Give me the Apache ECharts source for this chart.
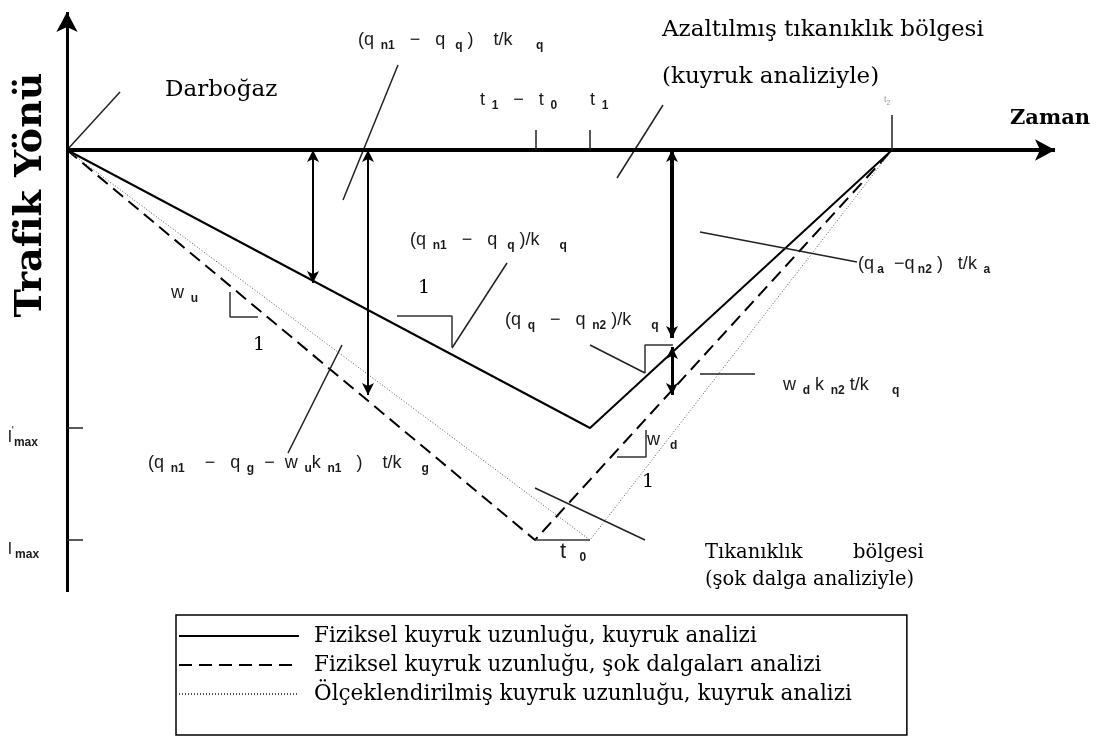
<!DOCTYPE html>
<html lang="tr">
<head>
<meta charset="UTF-8">
<title>Kuyruk analizi ve şok dalgası</title>
<script src="https://cdn.jsdelivr.net/npm/echarts@6/dist/echarts.min.js"></script>
<style>
	html, body { margin: 0; padding: 0; background: #fff; }
	#chart { width: 1104px; height: 756px; }
</style>
</head>
<body>
<div id="chart"></div>
<script type="text/javascript">
	// birimler: t (zaman) sağa, d (trafik yönü) yukarı, orijin = darboğaz
	var tTicks = [469, 523, 825];
	var tTickNames = ['{b|t}{s|  1}{b|   −   t}{s|  0}', '{b|t}{s|  1}', '{g|t}{gs|2}'];
	var lTicks = [-278, -390];
	var lTickNames = ['{l|l}{p|\'}{s|max}', '{l|l}{s| max}'];

	var seriesNames = [
		'Fiziksel kuyruk uzunluğu, kuyruk analizi',
		'Fiziksel kuyruk uzunluğu, şok dalgaları analizi',
		'Ölçeklendirilmiş kuyruk uzunluğu, kuyruk analizi'
	];
	var kuyrukAnalizi = [[0, 0], [523, -278], [825, 0]];
	var sokDalgasi = [[0, 0], [468, -390], [825, 0]];
	var olceklenmis = [[0, 0], [523, -390], [825, 0]];

	// çift yönlü oklar: [t, d1, d2, kalınlık]
	var arrows = [[246, 0, -133, 2], [301, 0, -245, 2], [605, 0, -188, 4], [605, -197, -245, 3]];

	// eğim üçgenleri ve t0 aralığı
	var slopeMarks = [
		[[163, -142], [163, -167], [191, -167]],
		[[330, -166], [385, -166], [385, -197]],
		[[578, -223], [578, -195], [606, -195]],
		[[579, -280], [579, -307], [550, -307]],
		[[468, -390], [523, -390]]
	];

	// açıklama çizgileri
	var leaders = [
		[[0, 0], [53, 58]],
		[[276, -50], [331, 85]],
		[[550, -28], [596, 45]],
		[[385, -198], [440, -113]],
		[[633, -82], [790, -112]],
		[[523, -195], [578, -223]],
		[[633, -224], [688, -224]],
		[[275, -195], [221, -303]],
		[[468, -338], [578, -390]]
	];

	var serif = 'DejaVu Serif';
	var sans = 'Liberation Sans';

	// metinler: [t, d, metin, tür]
	var notes = [
		[98, 60, 'Darboğaz', 'serif'],
		[595, 120, 'Azaltılmış tıkanıklık bölgesi', 'serif'],
		[595, 73, '(kuyruk analiziyle)', 'serif'],
		[638, -403, 'Tıkanıklık', 'serifS'],
		[786, -403, 'bölgesi', 'serifS'],
		[638, -430, '(şok dalga analiziyle)', 'serifS'],
		[291, 110, '{a|(q}{s|  n1}{a|   −   q}{s|   q}{a| )    t/k}{s|       q}', 'math'],
		[343, -90, '{a|(q}{s|  n1}{a|   −   q}{s|   q}{a| )/k}{s|      q}', 'math'],
		[791, -114, '{a|(q}{s| a}{a|  −q}{s| n2}{a| )   t/k}{s|  a}', 'math'],
		[438, -170, '{a|(q}{s|  q}{a|   −   q}{s|  n2}{a| )/k}{s|      q}', 'math'],
		[716, -235, '{a|w}{s|  d}{a| k}{s|  n2}{a| t/k}{s|       q}', 'math'],
		[81, -313, '{a|(q}{s|  n1}{a|    −   q}{s|  g}{a|  −  w}{s|  u}{a|k}{s|  n1}{a|   )    t/k}{s|      g}', 'math'],
		[104, -143, '{a|w}{s|  u}', 'math'],
		[580, -290, '{a|w}{s|   d}', 'math'],
		[493, -402, '{t|t}{s|    0}', 'math'],
		[186, -195, '1', 'one'],
		[351, -138, '1', 'one'],
		[575, -332, '1', 'one'],
		[943, 31, 'Zaman', 'bold'],
		[-36, -45, 'Trafik Yönü', 'vertical']
	];

	var rich = {
		a: { fontFamily: sans, fontSize: 18, color: '#1a1a1a' },
		b: { fontFamily: sans, fontSize: 18, color: '#1a1a1a' },
		t: { fontFamily: sans, fontSize: 22, color: '#1a1a1a' },
		l: { fontFamily: sans, fontSize: 17, color: '#1a1a1a' },
		s: { fontFamily: sans, fontSize: 12, fontWeight: 'bold', color: '#1a1a1a', padding: [12, 0, 0, 0] },
		p: { fontFamily: sans, fontSize: 11, color: '#1a1a1a', padding: [0, 0, 12, 0] },
		g: { fontFamily: sans, fontSize: 9, color: '#999' },
		gs: { fontFamily: sans, fontSize: 7, color: '#999', padding: [6, 0, 0, 0] }
	};

	function noteLabel(kind, text) {
		var lb = { show: true, position: 'right', distance: 0, formatter: text, color: '#000' };
		if (kind === 'serif') { lb.fontFamily = serif; lb.fontSize = 23; }
		if (kind === 'serifS') { lb.fontFamily = serif; lb.fontSize = 19.5; }
		if (kind === 'one') { lb.fontFamily = serif; lb.fontSize = 19; }
		if (kind === 'bold') { lb.fontFamily = serif; lb.fontSize = 21; lb.fontWeight = 'bold'; }
		if (kind === 'vertical') {
			lb.fontFamily = serif; lb.fontSize = 38; lb.fontWeight = 'bold';
			lb.position = 'inside'; lb.rotate = 90;
		}
		if (kind === 'math') { lb.rich = rich; }
		return lb;
	}

	var blk = '#000';
	var series = [
		{ name: seriesNames[0], type: 'line', data: kuyrukAnalizi, symbol: 'none',
		  lineStyle: { color: blk, width: 2 }, itemStyle: { color: blk } },
		{ name: seriesNames[1], type: 'line', data: sokDalgasi, symbol: 'none',
		  lineStyle: { color: blk, width: 2, type: [13, 7] }, itemStyle: { color: blk } },
		{ name: seriesNames[2], type: 'line', data: olceklenmis, symbol: 'none',
		  lineStyle: { color: '#555', width: 1, type: [1, 2] }, itemStyle: { color: '#555' } }
	];

	slopeMarks.concat(leaders).forEach(function (pts, i) {
		series.push({ name: 'yardimci' + i, type: 'line', data: pts, symbol: 'none', silent: true,
			lineStyle: { color: i < slopeMarks.length ? '#333' : '#222', width: 1.5 } });
	});

	// eksenler, oklar, çentikler
	var axisLines = [
		[{ coord: [0, 0], lineStyle: { width: 4 } }, { coord: [988, 0] }],
		[{ coord: [0, -442], lineStyle: { width: 3 } }, { coord: [0, 138] }]
	];
	var arrowLines = arrows.map(function (a) {
		return [{ coord: [a[0], a[1]], lineStyle: { width: a[3] } }, { coord: [a[0], a[2]] }];
	});
	var tickLen = [20, 20, 35];
	var tickLines = tTicks.map(function (t, i) {
		return [{ coord: [t, 0] }, { coord: [t, tickLen[i]] }];
	}).concat(lTicks.map(function (l) {
		return [{ coord: [0, l] }, { coord: [16, l] }];
	}));

	series.push({ name: 'eksen', type: 'line', data: [], silent: true,
		markLine: { silent: true, symbol: ['none', 'arrow'], symbolSize: [16, 20], animation: false,
			lineStyle: { color: blk, type: 'solid' }, label: { show: false }, data: axisLines } });
	series.push({ name: 'oklar', type: 'line', data: [], silent: true,
		markLine: { silent: true, symbol: ['arrow', 'arrow'], symbolSize: [9, 12], animation: false,
			lineStyle: { color: blk, type: 'solid' }, label: { show: false }, data: arrowLines } });
	series.push({ name: 'centik', type: 'line', data: [], silent: true,
		markLine: { silent: true, symbol: ['none', 'none'], animation: false,
			lineStyle: { color: '#222', type: 'solid', width: 1.5 }, label: { show: false }, data: tickLines } });

	var labelData = notes.map(function (n) {
		return { value: [n[0], n[1]], label: noteLabel(n[3], n[2]) };
	});
	tTicks.forEach(function (t, i) {
		var dx = [-56, 0, -8][i];
		labelData.push({ value: [t + dx, 50], label: noteLabel('math', tTickNames[i]) });
	});
	lTicks.forEach(function (l, i) {
		labelData.push({ value: [-59, l - 9], label: noteLabel('math', lTickNames[i]) });
	});
	series.push({ name: 'etiketler', type: 'scatter', data: labelData, symbolSize: 0, silent: true,
		itemStyle: { opacity: 1 } });

	var chart = echarts.init(document.getElementById('chart'));
	chart.setOption({
		animation: false,
		backgroundColor: '#fff',
		grid: { left: 0, right: 0, top: 0, bottom: 0 },
		xAxis: { type: 'value', min: -67, max: 1037, show: false },
		yAxis: { type: 'value', min: -606, max: 150, show: false },
		legend: {
			data: seriesNames, orient: 'vertical', left: 176, top: 615,
			itemWidth: 120, itemHeight: 14, itemGap: 7,
			padding: [10, 55, 30, 2],
			borderColor: '#000', borderWidth: 1.5,
			selectedMode: false,
			itemStyle: { opacity: 0 },
			textStyle: { fontFamily: serif, fontSize: 21.5, color: '#000', padding: [0, 0, 0, 10] }
		},
		series: series
	});
</script>
</body>
</html>
